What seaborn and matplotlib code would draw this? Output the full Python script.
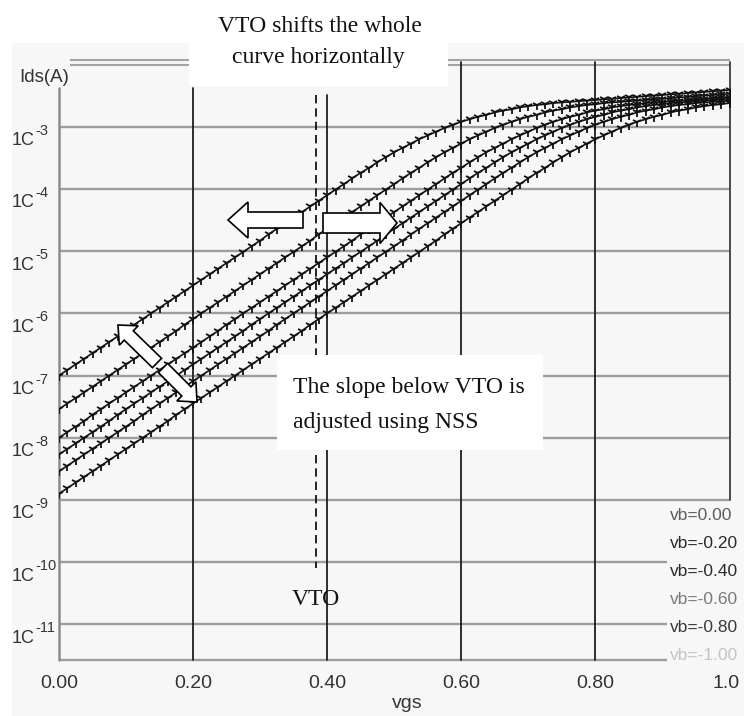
import numpy as np
import pandas as pd
import matplotlib
matplotlib.use("Agg")
import matplotlib.pyplot as plt
import seaborn as sns
from matplotlib.transforms import Affine2D, blended_transform_factory
from matplotlib.patches import Rectangle, FancyArrow

# ---------------------------------------------------------------- data
# gate voltage sweep (V)
vgs = np.linspace(0.0, 1.0, 81)

bias_labels = ["vb=0.00", "vb=-0.20", "vb=-0.40", "vb=-0.60", "vb=-0.80", "vb=-1.00"]
label_colors = ["#5c5c5c", "#2b2b2b", "#2b2b2b", "#7a7a7a", "#3a3a3a", "#c4c4c4"]

# log10(Ids / A) for each bulk bias
log_ids_vb000 = [
    -7.00, -6.91, -6.82, -6.73, -6.64, -6.55, -6.46, -6.37, -6.28, -6.18,
    -6.09, -6.00, -5.91, -5.82, -5.73, -5.64, -5.55, -5.46, -5.37, -5.28,
    -5.19, -5.10, -5.01, -4.92, -4.83, -4.73, -4.64, -4.55, -4.46, -4.37,
    -4.28, -4.19, -4.10, -4.01, -3.92, -3.83, -3.74, -3.66, -3.57, -3.49,
    -3.41, -3.34, -3.27, -3.20, -3.14, -3.08, -3.02, -2.97, -2.92, -2.88,
    -2.84, -2.81, -2.77, -2.74, -2.72, -2.69, -2.67, -2.65, -2.64, -2.62,
    -2.61, -2.60, -2.59, -2.58, -2.57, -2.56, -2.55, -2.54, -2.53, -2.52,
    -2.51, -2.50, -2.49, -2.48, -2.47, -2.46, -2.45, -2.44, -2.43, -2.42,
    -2.41,
]
log_ids_vb020 = [
    -7.54, -7.45, -7.36, -7.27, -7.18, -7.09,
    -7.00, -6.91, -6.82, -6.73, -6.64, -6.55, -6.46, -6.37, -6.28, -6.18,
    -6.09, -6.00, -5.91, -5.82, -5.73, -5.64, -5.55, -5.46, -5.37, -5.28,
    -5.19, -5.10, -5.01, -4.92, -4.83, -4.73, -4.64, -4.55, -4.46, -4.37,
    -4.28, -4.19, -4.10, -4.01, -3.92, -3.83, -3.74, -3.66, -3.57, -3.49,
    -3.41, -3.34, -3.27, -3.20, -3.14, -3.08, -3.02, -2.97, -2.92, -2.88,
    -2.84, -2.81, -2.77, -2.74, -2.72, -2.69, -2.67, -2.65, -2.64, -2.62,
    -2.61, -2.60, -2.59, -2.58, -2.57, -2.56, -2.55, -2.54, -2.53, -2.52,
    -2.51, -2.50, -2.49, -2.48, -2.47,
]
log_ids_vb040 = [
    -8.00, -7.91, -7.82, -7.73, -7.63, -7.54, -7.45, -7.36, -7.27, -7.18, -7.09,
    -7.00, -6.91, -6.82, -6.73, -6.64, -6.55, -6.46, -6.37, -6.28, -6.18,
    -6.09, -6.00, -5.91, -5.82, -5.73, -5.64, -5.55, -5.46, -5.37, -5.28,
    -5.19, -5.10, -5.01, -4.92, -4.83, -4.73, -4.64, -4.55, -4.46, -4.37,
    -4.28, -4.19, -4.10, -4.01, -3.92, -3.83, -3.74, -3.66, -3.57, -3.49,
    -3.41, -3.34, -3.27, -3.20, -3.14, -3.08, -3.02, -2.97, -2.92, -2.88,
    -2.84, -2.81, -2.77, -2.74, -2.72, -2.69, -2.67, -2.65, -2.64, -2.62,
    -2.61, -2.60, -2.59, -2.58, -2.57, -2.56, -2.55, -2.54, -2.53, -2.52,
]
log_ids_vb060 = [
    -8.27, -8.18, -8.09, -8.00, -7.91, -7.82, -7.73, -7.63, -7.54, -7.45,
    -7.36, -7.27, -7.18, -7.09,
    -7.00, -6.91, -6.82, -6.73, -6.64, -6.55, -6.46, -6.37, -6.28, -6.18,
    -6.09, -6.00, -5.91, -5.82, -5.73, -5.64, -5.55, -5.46, -5.37, -5.28,
    -5.19, -5.10, -5.01, -4.92, -4.83, -4.73, -4.64, -4.55, -4.46, -4.37,
    -4.28, -4.19, -4.10, -4.01, -3.92, -3.83, -3.74, -3.66, -3.57, -3.49,
    -3.41, -3.34, -3.27, -3.20, -3.14, -3.08, -3.02, -2.97, -2.92, -2.88,
    -2.84, -2.81, -2.77, -2.74, -2.72, -2.69, -2.67, -2.65, -2.64, -2.62,
    -2.61, -2.60, -2.59, -2.58, -2.57, -2.56, -2.55,
]
log_ids_vb080 = [
    -8.54, -8.45, -8.36, -8.27, -8.18, -8.09, -8.00, -7.91, -7.82, -7.73,
    -7.63, -7.54, -7.45, -7.36, -7.27, -7.18, -7.09,
    -7.00, -6.91, -6.82, -6.73, -6.64, -6.55, -6.46, -6.37, -6.28, -6.18,
    -6.09, -6.00, -5.91, -5.82, -5.73, -5.64, -5.55, -5.46, -5.37, -5.28,
    -5.19, -5.10, -5.01, -4.92, -4.83, -4.73, -4.64, -4.55, -4.46, -4.37,
    -4.28, -4.19, -4.10, -4.01, -3.92, -3.83, -3.74, -3.66, -3.57, -3.49,
    -3.41, -3.34, -3.27, -3.20, -3.14, -3.08, -3.02, -2.97, -2.92, -2.88,
    -2.84, -2.81, -2.77, -2.74, -2.72, -2.69, -2.67, -2.65, -2.64, -2.62,
    -2.61, -2.60, -2.59, -2.58,
]
log_ids_vb100 = [
    -8.90, -8.81, -8.72, -8.63, -8.54, -8.45, -8.36, -8.27, -8.18, -8.09,
    -8.00, -7.91, -7.82, -7.73, -7.63, -7.54, -7.45, -7.36, -7.27, -7.18,
    -7.09,
    -7.00, -6.91, -6.82, -6.73, -6.64, -6.55, -6.46, -6.37, -6.28, -6.18,
    -6.09, -6.00, -5.91, -5.82, -5.73, -5.64, -5.55, -5.46, -5.37, -5.28,
    -5.19, -5.10, -5.01, -4.92, -4.83, -4.73, -4.64, -4.55, -4.46, -4.37,
    -4.28, -4.19, -4.10, -4.01, -3.92, -3.83, -3.74, -3.66, -3.57, -3.49,
    -3.41, -3.34, -3.27, -3.20, -3.14, -3.08, -3.02, -2.97, -2.92, -2.88,
    -2.84, -2.81, -2.77, -2.74, -2.72, -2.69, -2.67, -2.65, -2.64, -2.62,
]

x_ticks = [0.0, 0.2, 0.4, 0.6, 0.8, 1.0]
x_tick_labels = ["0.00", "0.20", "0.40", "0.60", "0.80", "1.0"]
decades = [-3, -4, -5, -6, -7, -8, -9, -10, -11]
vto = 0.384

# ---------------------------------------------------------------- style
sns.set_style("white")
SANS = ["Liberation Sans", "DejaVu Sans"]
SERIF = ["Liberation Serif", "DejaVu Serif"]
plt.rcParams["font.family"] = SANS

W, H = 744, 716
fig = plt.figure(figsize=(W / 100, H / 100), dpi=100)
fig.patch.set_facecolor("white")
# pixel frame, origin at top-left of the figure
px = Affine2D().scale(1 / W, -1 / H).translate(0, 1) + fig.transFigure

# light panel behind the whole plot
fig.add_artist(Rectangle((12, 43), W - 12, H - 43, transform=px,
                         facecolor="#f7f7f7", edgecolor="none", zorder=-1))

X0, X1, Y_TOP, Y_BOT = 59.0, 729.5, 43.0, 660.0
ax = fig.add_axes([X0 / W, 1 - Y_BOT / H, (X1 - X0) / W, (Y_BOT - Y_TOP) / H])
ax.set_facecolor("none")
ax.set_yscale("log")
ax.set_xlim(0, 1)
ax.set_ylim(10 ** -11.574, 10 ** -1.654)
for s in ax.spines.values():
    s.set_visible(False)
ax.tick_params(which="both", left=False, bottom=False,
               labelleft=False, labelbottom=False)

xb = blended_transform_factory(ax.transData, px)   # x in data, y in pixels
yb = blended_transform_factory(px, ax.transData)   # x in pixels, y in data

# horizontal decade lines
for e in decades:
    x_end = X1 if e >= -9 else 667
    ax.plot([X0, x_end], [10.0 ** e] * 2, transform=yb, color="#9d9d9d",
            lw=1.7, zorder=1, clip_on=False, solid_capstyle="butt")
# bottom edge
ax.plot([X0, 667], [Y_BOT, Y_BOT], transform=px, color="#9d9d9d", lw=1.7,
        zorder=1, clip_on=False, solid_capstyle="butt")
# double rule along the top
for yy in (60.0, 64.5):
    ax.plot([70, X1], [yy, yy], transform=px, color="#a3a3a3", lw=1.5,
            zorder=1, clip_on=False, solid_capstyle="butt")
# left and right edges
ax.plot([X0, X0], [88, Y_BOT], transform=px, color="#8c8c8c", lw=1.8,
        zorder=1, clip_on=False)
ax.plot([X1, X1], [62, 500], transform=px, color="#4a4a4a", lw=1.4,
        zorder=1, clip_on=False)

# vertical grid lines
v_tops = {0.2: 88, 0.4: 95, 0.6: 62, 0.8: 62}
for xv, ytop in v_tops.items():
    ax.plot([xv, xv], [ytop, Y_BOT], transform=xb, color="#1e1e1e", lw=1.3,
            zorder=1, clip_on=False)

# VTO marker line
ax.plot([vto, vto], [95, 568], transform=xb, color="black", lw=1.2,
        dashes=(5, 3), zorder=1, clip_on=False)

# ---------------------------------------------------------------- curves
curves = [log_ids_vb000, log_ids_vb020, log_ids_vb040,
          log_ids_vb060, log_ids_vb080, log_ids_vb100]
frames = []
for vals, lab in zip(curves, bias_labels):
    frames.append(pd.DataFrame({"vgs": vgs, "Ids": 10.0 ** np.asarray(vals), "vb": lab}))
df = pd.concat(frames, ignore_index=True)

sns.lineplot(data=df, x="vgs", y="Ids", hue="vb", hue_order=bias_labels,
             palette=["#111111"] * 6, estimator=None, sort=False,
             marker="1", markersize=7, markeredgewidth=1.3,
             markeredgecolor="#111111", linewidth=1.2,
             legend=False, ax=ax, zorder=3)
ax.set_xlabel("")
ax.set_ylabel("")

# ---------------------------------------------------------------- axis text
for xv, lab in zip(x_ticks, x_tick_labels):
    xpix = X0 + xv * (X1 - X0)
    if lab == "1.0":
        xpix -= 3
    fig.text(xpix, 683, lab, transform=px, ha="center", va="center",
             fontsize=14, color="#333333", family=SANS)
fig.text(407, 703, "vgs", transform=px, ha="center", va="center",
         fontsize=14, color="#333333", family=SANS)
fig.text(44, 77, "Ids(A)", transform=px, ha="center", va="center",
         fontsize=13.5, color="#333333", family=SANS)

for e in decades:
    gy = 126.7 + (-3 - e) * 62.2
    fig.text(12, gy + 14, "1C", transform=px, ha="left", va="center",
             fontsize=13, color="#333333", family=SANS)
    fig.text(35, gy + 4, str(e), transform=px, ha="left", va="center",
             fontsize=10.5, color="#333333", family=SANS)

for i, (lab, col) in enumerate(zip(bias_labels, label_colors)):
    fig.text(670, 515 + i * 28, lab, transform=px, ha="left", va="center",
             fontsize=12.5, color=col, family=SANS)

# ---------------------------------------------------------------- annotations
fig.add_artist(Rectangle((189, 0), 259, 86, transform=px, facecolor="white",
                         edgecolor="none", zorder=5))
fig.add_artist(Rectangle((277, 355), 266, 95, transform=px, facecolor="white",
                         edgecolor="none", zorder=5))

fig.text(320, 32, "VTO shifts the whole", transform=px, ha="center",
         va="baseline", fontsize=17, color="#111111", family=SERIF, zorder=6)
fig.text(318, 63, "curve horizontally", transform=px, ha="center",
         va="baseline", fontsize=17, color="#111111", family=SERIF, zorder=6)
fig.text(293, 393, "The slope below VTO is", transform=px, ha="left",
         va="baseline", fontsize=17, color="#111111", family=SERIF, zorder=6)
fig.text(293, 428, "adjusted using NSS", transform=px, ha="left",
         va="baseline", fontsize=17, color="#111111", family=SERIF, zorder=6)
fig.text(316, 605, "VTO", transform=px, ha="center", va="baseline",
         fontsize=17, color="#111111", family=SERIF, zorder=6)

arrow_kw = dict(transform=px, facecolor="white", edgecolor="black", lw=1.2,
                length_includes_head=True, zorder=7)
fig.add_artist(FancyArrow(303, 220, -75, 0, width=16, head_width=36,
                          head_length=20, **arrow_kw))
fig.add_artist(FancyArrow(323, 223, 74, 0, width=20, head_width=41,
                          head_length=17, **arrow_kw))
fig.add_artist(FancyArrow(157, 363, -39, -38, width=13, head_width=27,
                          head_length=15, **arrow_kw))
fig.add_artist(FancyArrow(163, 368, 34, 34, width=13, head_width=27,
                          head_length=15, **arrow_kw))

fig.savefig("out.png", dpi=100, facecolor=fig.get_facecolor())
